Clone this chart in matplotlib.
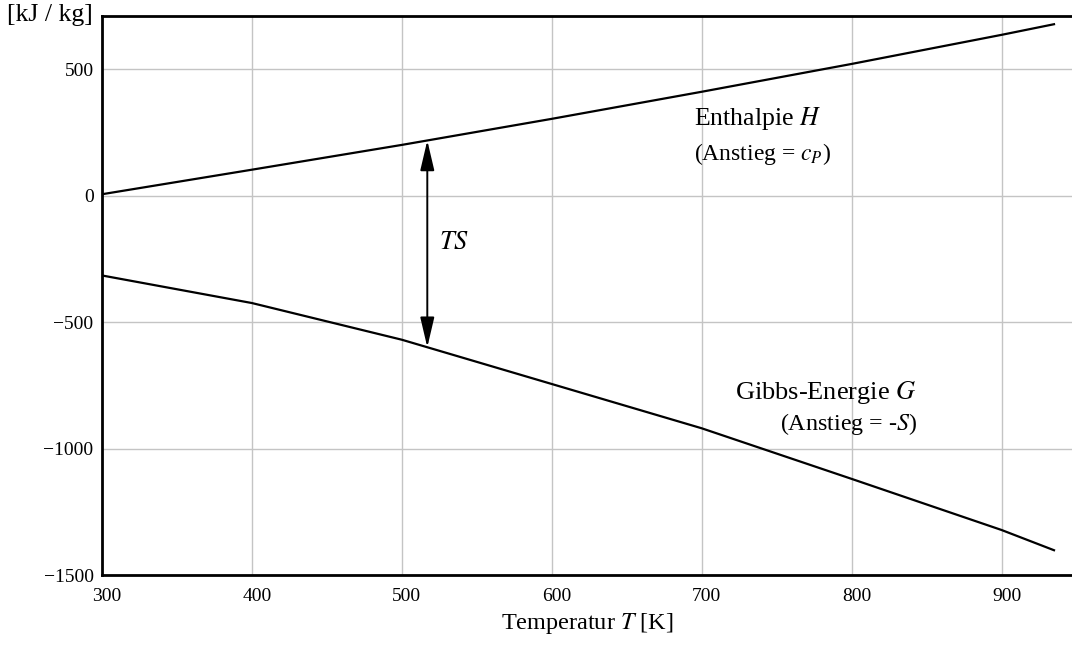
import numpy as np
import matplotlib
matplotlib.use("Agg")
import matplotlib.pyplot as plt
from matplotlib.transforms import ScaledTranslation

plt.rcParams["font.family"] = ["Liberation Serif", "DejaVu Serif"]
plt.rcParams["mathtext.fontset"] = "stix"

# temperature grid and state functions [kJ/kg]
T = [300, 400, 500, 600, 700, 800, 900, 935]
H = [5, 102, 200, 303, 410, 520, 635, 677]
G = [-316, -425, -570, -745, -920, -1120, -1322, -1402]

T_arrow = 517
x_ticks = [300, 400, 500, 600, 700, 800, 900]
y_ticks = [-1500, -1000, -500, 0, 500]

fig = plt.figure(figsize=(10.72, 6.45), dpi=100)
ax = fig.add_axes([0.0951, 0.1085, 0.9049, 0.8665])

ax.plot(T, H, color="black", lw=1.6, zorder=3)
ax.plot(T, G, color="black", lw=1.6, zorder=3)

# TS = H - G, shown as double arrow between the curves
h_a = np.interp(T_arrow, T, H)
g_a = np.interp(T_arrow, T, G)
ax.annotate("", xy=(T_arrow, g_a), xytext=(T_arrow, h_a),
            arrowprops=dict(arrowstyle="<|-|>,head_length=1.15,head_width=0.27",
                            mutation_scale=16, color="black", lw=1.4,
                            shrinkA=0, shrinkB=0), zorder=4)
ax.text(525, -189, "$TS$", fontsize=19, va="center", ha="left")

ax.text(695, 303, "Enthalpie $H$", fontsize=18.5, va="center", ha="left")
ax.text(695, 164, "(Anstieg = $c_P$)", fontsize=17, va="center", ha="left")
ax.text(722, -780, "Gibbs-Energie $G$", fontsize=19, va="center", ha="left")
ax.text(752, -903, "(Anstieg = -$S$)", fontsize=17.3, va="center", ha="left")

ax.set_xlim(300, 947)
ax.set_ylim(-1500, 709)
ax.set_xticks(x_ticks)
ax.set_yticks(y_ticks)
ax.set_yticklabels([f"{v}".replace("-", "\u2212") for v in y_ticks])
ax.tick_params(axis="both", length=0, labelsize=14)
ax.tick_params(axis="y", pad=6)
ax.tick_params(axis="x", pad=9)
shift = ScaledTranslation(5 / 100, 0, fig.dpi_scale_trans)
for lab in ax.get_xticklabels():
    lab.set_transform(lab.get_transform() + shift)
ax.grid(True, color="#c4c4c4", lw=1.0, zorder=0)

for side in ["left", "top", "bottom"]:
    ax.spines[side].set_linewidth(2.0)
    ax.spines[side].set_color("black")
ax.spines["right"].set_visible(False)

ax.set_xlabel("Temperatur $T$ [K]", fontsize=17.5, labelpad=5)
fig.text(7 / 1072, 1 - 15 / 645, "[kJ / kg]", fontsize=18.5, ha="left", va="center")

fig.savefig("out.png", dpi=100)
